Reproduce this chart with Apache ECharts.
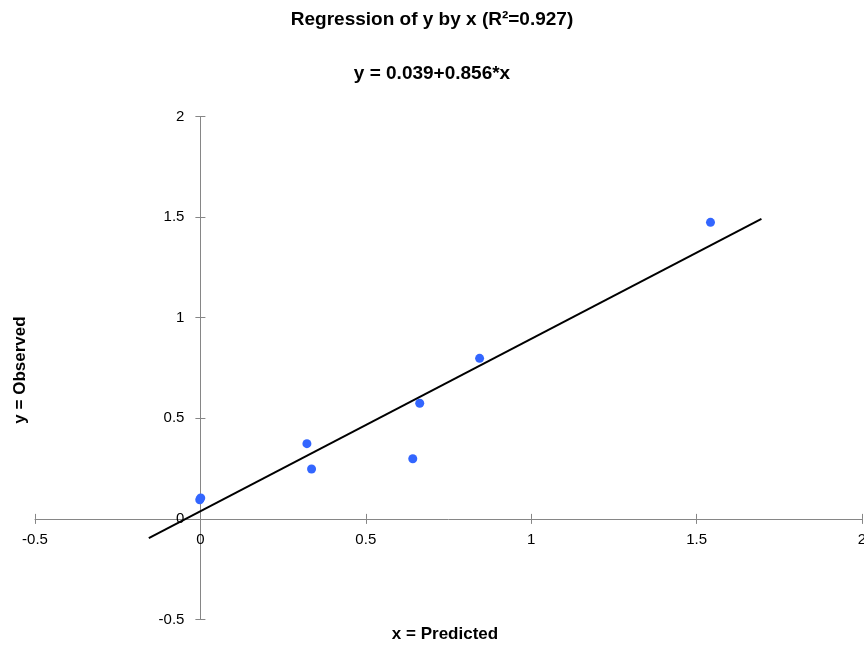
<!DOCTYPE html>
<html>
<head>
<meta charset="utf-8">
<script src="https://cdn.jsdelivr.net/npm/echarts@6/dist/echarts.min.js"></script>
<style>
html,body{margin:0;padding:0;background:#fff;}
#chart{width:864px;height:646px;}
</style>
</head>
<body>
<div id="chart"></div>
<script>
// Observed data points (x = predicted, y = observed)
const pointsX = [-0.002, 0.001, 0.322, 0.336, 0.642, 0.663, 0.844, 1.542];
const pointsY = [0.095, 0.104, 0.374, 0.248, 0.299, 0.575, 0.798, 1.474];
// Regression line endpoints
const lineX = [-0.156, 1.696];
const lineY = [-0.095, 1.491];
// Axis ranges
const xMin = -0.5, xMax = 2, xStep = 0.5;
const yMin = -0.5, yMax = 2, yStep = 0.5;
const titleText = 'Regression of y by x (R²=0.927)';
const subText = 'y = 0.039+0.856*x';
const xName = 'x = Predicted';
const yName = 'y = Observed';

const FONT = '"Liberation Sans", Arial, sans-serif';
const scatterData = pointsX.map((x, i) => [x, pointsY[i]]);
const lineData = lineX.map((x, i) => [x, lineY[i]]);

// Layout: plot area and where the zero lines fall inside it
const G = { left: 35, right: 2, top: 116.5, bottom: 26.5 };
const W = 864 - G.left - G.right, H = 646 - G.top - G.bottom;
const yAxisOffset = -((0 - xMin) / (xMax - xMin)) * W;   // move y axis to x = 0
const xAxisOffset = -((0 - yMin) / (yMax - yMin)) * H;   // move x axis to y = 0

const AX = '#868686';
function xa(inside) {
  return {
    type: 'value', min: xMin, max: xMax, interval: xStep,
    position: 'bottom', offset: xAxisOffset,
    splitLine: { show: false },
    axisLine: { show: !inside, onZero: false, lineStyle: { color: AX, width: 1 } },
    axisTick: { show: true, inside: inside, length: 5, lineStyle: { color: AX } },
    axisLabel: { show: !inside, margin: 13, fontFamily: FONT, fontSize: 15, color: '#000' }
  };
}
function ya(inside) {
  return {
    type: 'value', min: yMin, max: yMax, interval: yStep,
    position: 'left', offset: yAxisOffset,
    splitLine: { show: false },
    axisLine: { show: !inside, onZero: false, lineStyle: { color: AX, width: 1 } },
    axisTick: { show: true, inside: inside, length: 5, lineStyle: { color: AX } },
    axisLabel: { show: !inside, margin: 16, fontFamily: FONT, fontSize: 15, color: '#000' }
  };
}

const chart = echarts.init(document.getElementById('chart'), null, { renderer: 'canvas' });
chart.setOption({
  animation: false,
  backgroundColor: '#ffffff',
  title: [
    { text: titleText, left: 'center', top: 5, textStyle: { fontFamily: FONT, fontSize: 19, fontWeight: 'bold', color: '#000' } },
    { text: subText, left: 'center', top: 59, textStyle: { fontFamily: FONT, fontSize: 19, fontWeight: 'bold', color: '#000' } }
  ],
  grid: { left: G.left, right: G.right, top: G.top, bottom: G.bottom, containLabel: false, outerBoundsMode: 'none' },
  xAxis: [xa(false), xa(true)],
  yAxis: [ya(false), ya(true)],
  graphic: [
    { type: 'text', x: 445, y: 634, style: { text: xName, font: 'bold 17px ' + FONT, fill: '#000', align: 'center', verticalAlign: 'middle' } },
    { type: 'text', x: 20, y: 370, rotation: Math.PI / 2, style: { text: yName, font: 'bold 17px ' + FONT, fill: '#000', align: 'center', verticalAlign: 'middle' } }
  ],
  series: [
    {
      type: 'line', data: lineData, xAxisIndex: 0, yAxisIndex: 0,
      showSymbol: false, symbol: 'none',
      lineStyle: { color: '#000', width: 2 }, z: 2
    },
    {
      type: 'scatter', data: scatterData, xAxisIndex: 0, yAxisIndex: 0,
      symbolSize: 9, itemStyle: { color: '#3366ff', opacity: 1 }, z: 3
    }
  ]
});
</script>
</body>
</html>
